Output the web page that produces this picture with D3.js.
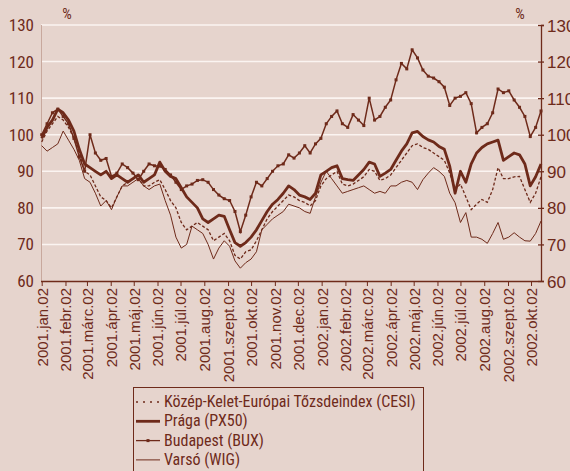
<!DOCTYPE html>
<html>
<head>
<meta charset="utf-8">
<script src="https://cdn.jsdelivr.net/npm/d3@7"></script>
<style>
  body { margin: 0; background: #e6d4cd; }
  svg { display: block; }
  text { font-family: "Liberation Sans Narrow", "Arial Narrow", "Roboto Condensed", sans-serif; fill: #6e2a1a; }
</style>
</head>
<body>
<svg id="chart" width="570" height="471"></svg>
<script>
// weekly observations, 2001.jan.02 onwards
var start = new Date(2001, 0, 2);
var dates = d3.range(94).map(i => d3.timeDay.offset(start, 7 * i));

var cesi = [98,101,103,105,104,102,99,95,90,89,86,83,82,80,83,86,87,88,88,86,
  86,87,87.7,85,82,80,76,74,75,76,75,74,71,72,73,71,67,66,68,68.5,
  71,74,77,79,80.5,82,83.5,83,82,81.5,80.5,82,86,88,89,90,86.5,86,86.5,87.5,
  88.5,90.5,90,87.5,88,89,91,93,95,97,97.5,96.5,96,95,94,93,89.5,85,86.5,83,
  79.5,81,82.3,81.5,85,91,88,88,88.5,88.6,85,81.5,84,88.5];
var px50 = [99,102,104,107,106,104,101,96,92,91,90,89,90,88,89,88,87,88,89,87,
  88,89,92.5,90,88.6,88,85.5,83,81.5,80,77,76,77,78,77.7,74,70.5,69.5,70.5,72,
  74,76.5,79,81,82.3,84,86,85,83.5,83,82.3,84,89,90,91,91.5,88,87.7,87.5,89,
  90.5,92.5,92,88.6,89.5,90.5,93,95.5,97.5,100.5,100.9,99.5,98.6,98,96.8,96,91.4,84,90,87,
  92,95,96.5,97.5,98,98.5,93,94,95,94.5,92,86,88.5,92];
var bux = [100,103,106,107,105,103,99,94,90,100,95,93,93.5,88.6,89.5,92,91,89.5,87.7,90,
  92,91.5,91.4,90.5,89,87,85,86,86.5,87.5,87.7,87,85,83.5,82.5,82,79,73.5,78,83,
  87,86,88,90,91.5,92,94.5,93.6,95,97,95,97.5,99,103,105,106.5,103,102,105.5,104,
  102.5,110,104,105,107.5,109.5,115,119.5,118,123.2,121,117.7,116,115.5,114.5,113,108,110,110.5,111.5,
  108.5,100.5,102,103,106,112.5,111.5,112,109.5,107.5,105,99.5,102,106.5];
var wig = [97,95.5,96.5,97.5,101,98.5,96,93,88,87,84,80.5,82,79.5,83,86,86,87,88,86,
  85,86,86.5,82,78,72,69,70,75,74,73,70,66,69,71,69.5,65.5,63.5,65,66,
  68,74,75.5,77,78,79,81,80.5,80,79,78.5,83,87,90,88,86,84,84.5,85,85.5,
  86,85,84,84.5,84,86,86,87,87.5,87,85,87.7,89.5,91,90,88.6,84,81.4,76,78.7,
  72,72,71.4,70.3,73,76,71.4,72,73.2,72,71,70.9,73,76.4];

var seriesNames = ["Közép-Kelet-Európai Tőzsdeindex (CESI)", "Prága (PX50)", "Budapest (BUX)", "Varsó (WIG)"];
var yTicks = [60, 70, 80, 90, 100, 110, 120, 130];
var monthNames = ["jan.", "febr.", "márc.", "ápr.", "máj.", "jún.", "júl.", "aug.", "szept.", "okt.", "nov.", "dec."];
var tickDates = d3.range(22).map(i => new Date(2001, i, 2));

var brown = "#6e2a1a";
var svg = d3.select("#chart");

var x = d3.scaleTime()
    .domain([start, dates[dates.length - 1]])
    .range([41.7, 541]);
var y = d3.scaleLinear().domain([60, 130]).range([281, 25]);

// white grid lines
svg.append("g").selectAll("line")
    .data(yTicks.filter(v => v > 60))
    .enter().append("line")
    .attr("x1", 41).attr("x2", 541)
    .attr("y1", d => y(d)).attr("y2", d => y(d))
    .attr("stroke", "#fbf4f1").attr("stroke-width", 1.6);

// left pale axis line
svg.append("line")
    .attr("x1", 41.5).attr("x2", 41.5).attr("y1", y(130)).attr("y2", y(60))
    .attr("stroke", "#c8a89d").attr("stroke-width", 1);

// left labels
svg.append("g").selectAll("text")
    .data(yTicks).enter().append("text")
    .attr("x", 34).attr("y", d => y(d) + 6)
    .attr("text-anchor", "end").attr("font-size", 17)
    .text(d => d);

// right axis
var yr = d3.axisRight(y).tickValues(yTicks).tickSize(3).tickPadding(3);
var gr = svg.append("g").attr("transform", "translate(541,0)").call(yr);
gr.select(".domain").attr("stroke", brown).attr("stroke-width", 1.3);
gr.selectAll(".tick line").attr("stroke", brown).attr("x1", -3).attr("stroke-width", 1.3);
gr.selectAll(".tick text").attr("font-size", 17).attr("dy", "0.36em")
    .style("font-family", "'Liberation Sans Narrow', 'Arial Narrow', sans-serif").attr("fill", brown);

svg.append("text").attr("x", 67).attr("y", 19).attr("text-anchor", "middle").attr("font-size", 15).text("%");
svg.append("text").attr("x", 520).attr("y", 19).attr("text-anchor", "middle").attr("font-size", 15).text("%");

// bottom axis
var xa = d3.axisBottom(x).tickValues(tickDates).tickSize(5)
    .tickFormat(d => d.getFullYear() + "." + monthNames[d.getMonth()] + "02");
var gx = svg.append("g").attr("transform", "translate(0,281)").call(xa);
gx.select(".domain").attr("stroke", brown).attr("stroke-width", 1.3).attr("d", "M41,0.5H541");
gx.selectAll(".tick line").attr("stroke", brown).attr("stroke-width", 1);
gx.selectAll(".tick text")
    .attr("transform", "rotate(-90)")
    .attr("text-anchor", "end")
    .attr("x", -7).attr("y", 0).attr("dy", "0.36em")
    .attr("font-size", 15).attr("fill", brown)
    .style("font-family", "'Liberation Sans Narrow', 'Arial Narrow', sans-serif");

// lines
var line = d3.line().x((d, i) => x(dates[i])).y(d => y(d));
var plot = svg.append("g");
plot.append("path").datum(wig).attr("d", line)
    .attr("fill", "none").attr("stroke", brown).attr("stroke-width", 1);
plot.append("path").datum(cesi).attr("d", line)
    .attr("fill", "none").attr("stroke", brown).attr("stroke-width", 1.3).attr("stroke-dasharray", "3,2");
plot.append("path").datum(px50).attr("d", line)
    .attr("fill", "none").attr("stroke", brown).attr("stroke-width", 2.8).attr("stroke-linejoin", "round");
plot.append("path").datum(bux).attr("d", line)
    .attr("fill", "none").attr("stroke", brown).attr("stroke-width", 1.5);
plot.selectAll(".mk").data(bux).enter().append("rect").attr("class", "mk")
    .attr("x", (d, i) => x(dates[i]) - 1.5).attr("y", d => y(d) - 1.5)
    .attr("width", 3).attr("height", 3).attr("fill", brown);

// legend
var lg = svg.append("g");
lg.append("rect").attr("x", 133.5).attr("y", 387.5).attr("width", 290).attr("height", 100)
    .attr("fill", "none").attr("stroke", brown).attr("stroke-width", 1);
var items = lg.selectAll(".it").data(seriesNames).enter().append("g")
    .attr("transform", (d, i) => "translate(0," + (407 + i * 19.3) + ")");
items.append("text").attr("x", 164).attr("y", 0).attr("font-size", 16).text(d => d);
items.append("line").attr("x1", 136).attr("x2", 160).attr("y1", -5).attr("y2", -5)
    .attr("stroke", brown)
    .attr("stroke-width", (d, i) => [1.3, 2.8, 1.3, 1][i])
    .attr("stroke-dasharray", (d, i) => i == 0 ? "2,5" : null);
items.filter((d, i) => i == 2).append("rect")
    .attr("x", 146.5).attr("y", -6.5).attr("width", 3).attr("height", 3).attr("fill", brown);
</script>
</body>
</html>
